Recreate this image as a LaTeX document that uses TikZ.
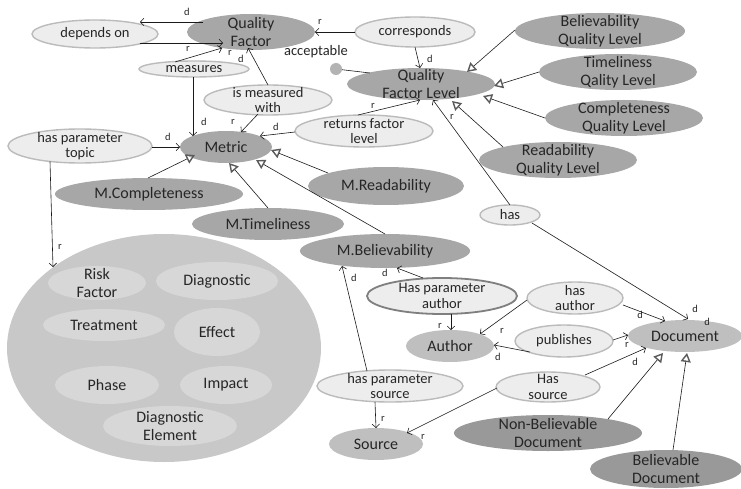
\documentclass[tikz,border=0pt]{standalone}
\usepackage{fontspec}
\setmainfont{Carlito}
\usetikzlibrary{shapes.geometric,arrows.meta,calc}

\definecolor{clsfill}{HTML}{A7A7A7}
\definecolor{indfill}{HTML}{BFBFBF}
\definecolor{subfill}{HTML}{999999}
\definecolor{propfill}{HTML}{EDEDED}
\definecolor{propline}{HTML}{BBBBBB}
\definecolor{strongline}{HTML}{7F7F7F}
\definecolor{hubfill}{HTML}{C8C8C8}
\definecolor{itemfill}{HTML}{D7D7D7}
\definecolor{dotfill}{HTML}{B3B3B3}
\definecolor{edgecol}{HTML}{1A1A1A}
\definecolor{tricol}{HTML}{5A5A5A}
\definecolor{txt}{HTML}{262626}

\newcommand\clsfont{\fontsize{16}{17.5}\selectfont}
\newcommand\propfont{\fontsize{14.5}{15.5}\selectfont}
\newcommand\edgefont{\fontsize{10.5}{11}\selectfont}

\tikzset{
  oval/.style={ellipse, inner xsep=0pt, inner ysep=-8pt, outer sep=0pt,
    align=center, text=txt},
  sz/.style 2 args={minimum width=#1pt, minimum height=#2pt},
  cls/.style={oval, fill=clsfill, font=\clsfont},
  ind/.style={oval, fill=indfill, font=\clsfont},
  sub/.style={oval, fill=subfill, font=\clsfont},
  prop/.style={oval, fill=propfill, draw=propline, line width=1.4pt, font=\propfont},
  strongprop/.style={prop, draw=strongline, line width=1.8pt},
  hub/.style={oval, fill=hubfill},
  item/.style={oval, fill=itemfill, font=\clsfont},
  lbl/.style={font=\edgefont, text=txt, inner sep=0pt},
  arr/.style={draw=edgecol, line width=0.6pt,
    -{Straight Barb[length=3.5pt,width=7.5pt]}},
  isa/.style={draw=edgecol, line width=0.6pt,
    -{Triangle[open,length=9pt,width=10pt,line width=1.4pt,color=tricol]}},
  plain/.style={draw=edgecol, line width=0.6pt}
}

\begin{document}
\begin{tikzpicture}[x=1pt,y=-1pt]
\useasboundingbox[fill=white] (0,0) rectangle (741,489);

% ---- topic hub with its member concepts
\node[hub, sz={314}{228}] (hub) at (164,348) {};
\node[item, sz={98}{34}]  (risk)   at (97,283)  {Risk\\Factor};
\node[item, sz={122}{38}] (diag)   at (217,281) {Diagnostic};
\node[item, sz={122}{32}] (treat)  at (104,325) {Treatment};
\node[item, sz={86}{48}]  (effect) at (217,332) {Effect};
\node[item, sz={104}{38}] (phase)  at (107,385) {Phase};
\node[item, sz={92}{38}]  (impact) at (226,385) {Impact};
\node[item, sz={134}{40}] (delem)  at (170,426) {Diagnostic\\Element};

% ---- classes
\node[cls, sz={128}{36}] (qf)     at (251,32)  {Quality\\Factor};
\node[cls, sz={148}{32}] (qfl)    at (421,84)  {Quality\\Factor Level};
\node[cls, sz={170}{36}] (bql)    at (600,31)  {Believability\\Quality Level};
\node[cls, sz={158}{36}] (tql)    at (618,72)  {Timeliness\\Qality Level};
\node[cls, sz={158}{36}] (cql)    at (624,118) {Completeness\\Quality Level};
\node[cls, sz={158}{36}] (rql)    at (558,160) {Readability\\Quality Level};
\node[cls, sz={92}{32}]  (metric) at (226,147) {Metric};
\node[cls, sz={188}{32}] (mcomp)  at (149,194) {M.Completeness};
\node[cls, sz={152}{32}] (mtime)  at (268,224) {M.Timeliness};
\node[cls, sz={156}{38}] (mread)  at (386,186) {M.Readability};
\node[cls, sz={170}{34}] (mbel)   at (385,251) {M.Believability};

\node[ind, sz={88}{32}]  (author) at (450,346) {Author};
\node[ind, sz={94}{32}]  (source) at (376,444) {Source};
\node[ind, sz={114}{32}] (doc)    at (685,336) {Document};
\node[sub, sz={188}{36}] (nbd)    at (548,433) {Non-Believable\\Document};
\node[sub, sz={152}{38}] (bd)     at (666,469) {Believable\\Document};

% ---- properties
\node[prop, sz={126}{28}] (dep)  at (95,34)   {depends on};
\node[prop, sz={120}{30}] (corr) at (415,32)  {corresponds};
\node[prop, sz={110}{16}] (meas) at (194,69)  {measures};
\node[prop, sz={128}{30}] (imw)  at (268,100) {is measured\\with};
\node[prop, sz={138}{32}] (rfl)  at (364,131) {returns factor\\level};
\node[prop, sz={144}{34}] (hpt)  at (80,146)  {has parameter\\topic};
\node[prop, sz={60}{20}]  (has)  at (510,215) {has};
\node[strongprop, sz={150}{36}] (hpa) at (442,296) {Has parameter\\author};
\node[prop, sz={96}{32}]  (hau)  at (575,298) {has\\author};
\node[prop, sz={98}{32}]  (pub)  at (564,341) {publishes};
\node[prop, sz={146}{32}] (hps)  at (390,386) {has parameter\\source};
\node[prop, sz={104}{30}] (hsrc) at (548,387) {Has\\source};

% ---- datatype attribute
\node[circle, fill=dotfill, minimum size=12pt, inner sep=0pt] (dot) at (336,69) {};
\node[font=\propfont, text=txt, inner sep=0pt] (acc) at (316,52) {acceptable};
\draw[plain] (dot) -- ($(qfl)+(-51,-11)$);

% ---- object property connectors
\draw[arr] ($(qf)+(-48,-10)$) -- ($(dep)+(45,-12)$) node[lbl] at (187,12) {d};
\draw[arr] ($(dep)+(45,9)$) -- ($(qf)+(-28,11)$) node[lbl] at (188,49) {r};
\draw[arr] ($(meas)+(-19,-7)$) -- ($(qf)+(-29,16)$) node[lbl] at (230,53) {r};
\draw[arr] ($(meas)+(-1,8)$) -- ($(metric)+(-33,-11)$) node[lbl] at (204,122) {d};
\draw[arr] ($(imw)+(0,-15)$) -- ($(qf)+(-3,16)$) node[lbl] at (241,59) {d};
\draw[arr] ($(imw)+(-10,14)$) -- ($(metric)+(15,-15)$) node[lbl] at (233,122) {r};
\draw[arr] ($(rfl)+(-69,1)$) -- ($(metric)+(34,-11)$) node[lbl] at (276,127) {d};
\draw[arr] ($(rfl)+(-6,-16)$) -- ($(qfl)+(-1,16)$) node[lbl] at (373,106) {r};
\draw[arr] ($(hpt)+(72,1)$) -- ($(metric)+(-46,0)$) node[lbl] at (168,137) {d};
\draw[arr] ($(hpt)+(-30,15.5)$) -- ($(hub)+(-111,-81)$) node[lbl] at (60,247) {r};
\draw[arr] ($(corr)+(-60,0)$) -- ($(qf)+(64,0)$) node[lbl] at (320,22) {r};
\draw[arr] ($(corr)+(0,15)$) -- ($(qfl)+(-1,-16)$) node[lbl] at (430,59) {d};
\draw[arr] ($(has)+(0,-10)$) -- ($(qfl)+(12,16)$) node[lbl] at (452,117) {r};
\draw[arr] ($(has)+(22,8)$) -- ($(doc)+(3,-17)$) node[lbl] at (695,309) {d}
  node[lbl] at (707,322) {d};
\draw[arr] ($(hpa)+(-19,-18)$) -- ($(mbel)+(12,17)$) node[lbl] at (385,273) {d};
\draw[arr] ($(hpa)+(9,18)$) -- ($(author)+(1,-16)$) node[lbl] at (440,326) {r};
\draw[arr] ($(hau)+(-48,2)$) -- ($(author)+(30,-12)$) node[lbl] at (502,331) {r};
\draw[arr] ($(hau)+(48,7)$) -- ($(doc)+(-20,-15)$) node[lbl] at (640,315) {d};
\draw[arr] ($(pub)+(49,-1)$) -- ($(doc)+(-57,-1)$) node[lbl] at (627,345) {r};
\draw[arr] ($(pub)+(-34,11)$) -- ($(author)+(44,-1)$) node[lbl] at (498,357) {d};
\draw[arr] ($(hsrc)+(37,-12)$) -- ($(doc)+(-39,12)$) node[lbl] at (635,362) {d};
\draw[arr] ($(hsrc)+(-51,1)$) -- ($(source)+(31,-11)$) node[lbl] at (423,437) {r};
\draw[arr] ($(hps)+(-15,16)$) -- ($(source)+(0,-16)$) node[lbl] at (383,419) {r};
\draw[arr] ($(hps)+(-23,-15)$) -- ($(mbel)+(-43,15)$) node[lbl] at (354,278) {d};

% ---- subclass connectors
\draw[isa] ($(bql)+(-85,-1)$) -- ($(qfl)+(46,-12)$);
\draw[isa] ($(tql)+(-79,0)$) -- ($(qfl)+(73,2)$);
\draw[isa] ($(cql)+(-79,0)$) -- ($(qfl)+(62,12)$);
\draw[isa] ($(rql)+(-55,-13)$) -- ($(qfl)+(31,17)$);
\draw[isa] ($(mcomp)+(-1,-16)$) -- ($(metric)+(-31,8)$);
\draw[isa] ($(mtime)+(0,-16)$) -- ($(metric)+(3,16)$);
\draw[isa] ($(mbel)+(0,-17)$) -- ($(metric)+(30,13)$);
\draw[isa] ($(mread)+(-58,-13)$) -- ($(metric)+(45,3)$);
\draw[isa] ($(nbd)+(60,-14)$) -- ($(doc)+(-22,17)$);
\draw[isa] ($(bd)+(7,-19)$) -- ($(doc)+(2,17)$);
\end{tikzpicture}
\end{document}
